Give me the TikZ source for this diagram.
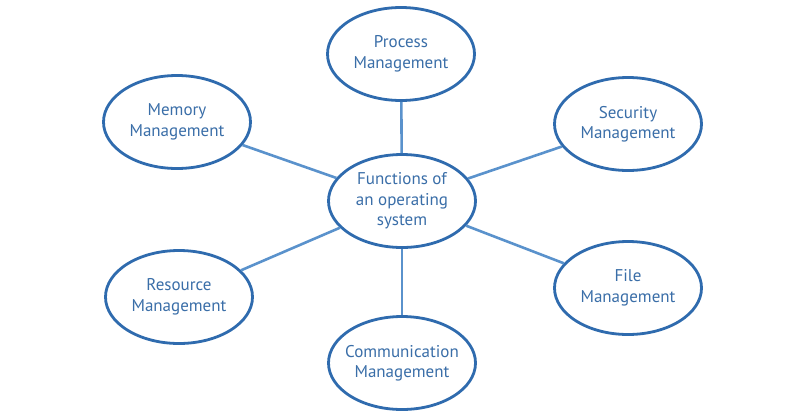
\documentclass[tikz,border=0pt]{standalone}
\usepackage{fontspec}
\setmainfont{PT Sans}
\usepackage{xcolor}
\usepackage{tikz}
\usetikzlibrary{shapes.geometric}

\definecolor{ringblue}{HTML}{2F6BAE}
\definecolor{lineblue}{HTML}{5A92CC}
\definecolor{textblue}{HTML}{3A6EA8}

\begin{document}
\begin{tikzpicture}[x=1pt, y=-1pt,
    every node/.style={ellipse, draw=ringblue, line width=2.8pt, fill=white, text=textblue,
      minimum width=147pt, minimum height=93pt, inner xsep=-12pt, inner ysep=0pt, align=center,
      font=\fontsize{17}{20.5}\selectfont}]
   \useasboundingbox (0,0) rectangle (805,418);
   \node (OS) at (402,201) {Functions of\\an operating\\system};
   \node (P) at (401,54) {Process\\Management};
   \node (M) at (177,122) {Memory\\Management};
   \node (S) at (628,124) {Security\\Management};
   \node (R) at (179,297) {Resource\\Management};
   \node (F) at (628,288) {File\\Management};
   \node (C) at (402,363) {Communication\\Management};

   \draw[lineblue, line width=2.6pt] (OS) -- (P);
   \draw[lineblue, line width=2.6pt] (OS) -- (M);
   \draw[lineblue, line width=2.6pt] (OS) -- (S);
   \draw[lineblue, line width=2.6pt] (OS) -- (R);
   \draw[lineblue, line width=2.6pt] (OS) -- (F);
   \draw[lineblue, line width=2.6pt] (OS) -- (C);
\end{tikzpicture}
\end{document}
